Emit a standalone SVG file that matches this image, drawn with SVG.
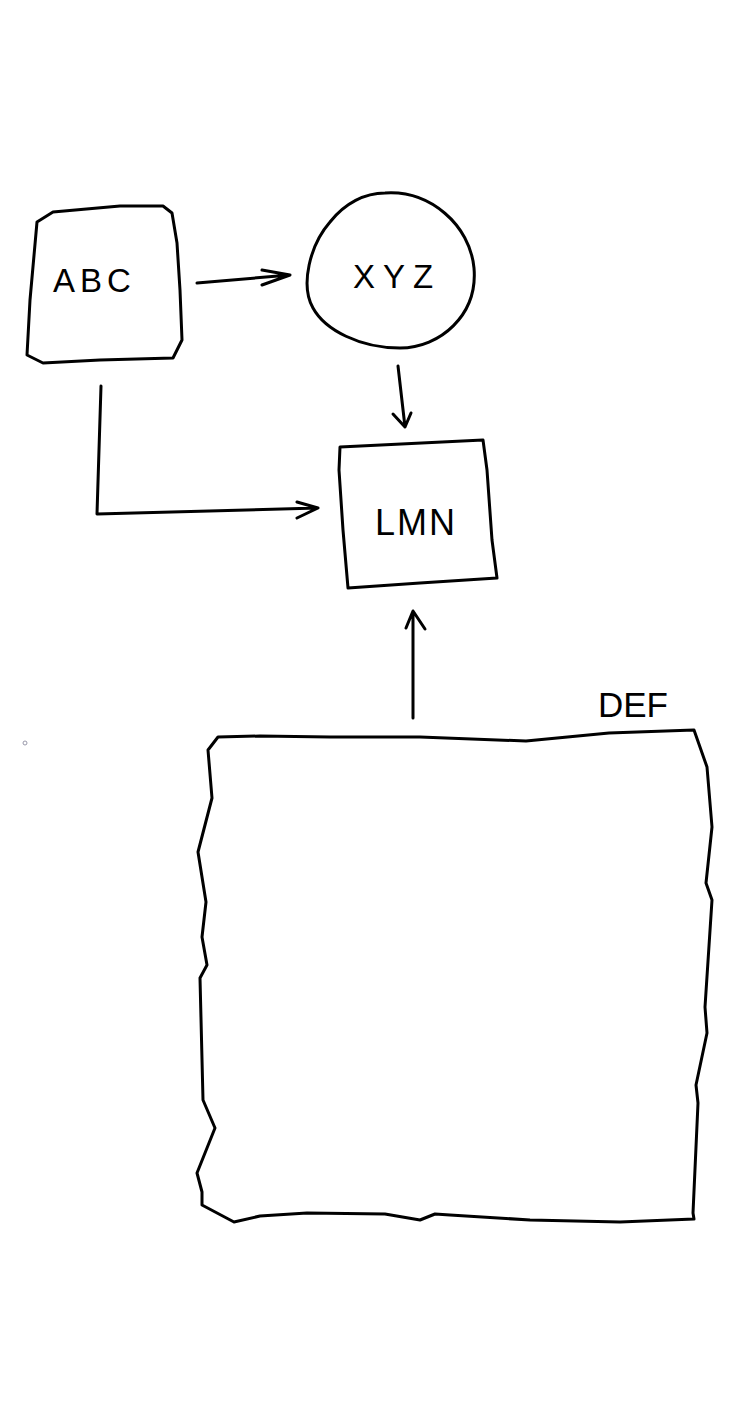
<svg xmlns="http://www.w3.org/2000/svg" width="733" height="1428" viewBox="0 0 733 1428">
<style>
.s{fill:none;stroke:#000;stroke-width:3;stroke-linejoin:round;stroke-linecap:round}
.t{font-family:"Liberation Sans",Arial,sans-serif;fill:#000}
</style>
<rect width="733" height="1428" fill="#fff"/>
<g id="abc">
<path class="s" d="M37,222 L53,212 L120,206 L163,206 L172,213 L177,243 L180,290 L182,340 L173,358 L100,360 L43,363 L27,355 L30,300 L37,222 Z"/>
<text class="t" x="53" y="292" font-size="33" letter-spacing="5">ABC</text>
</g>
<g id="xyz">
<path class="s" d="M385,193 C430,190 470,225 474,268 C478,315 440,348 400,348 C360,348 325,330 313,308 C300,285 310,245 330,222 C345,203 365,193 385,193 Z"/>
<text class="t" x="353" y="288" font-size="33" letter-spacing="8">XYZ</text>
</g>
<g id="lmn">
<path class="s" d="M340,447 L483,440 L487,470 L492,540 L497,578 L420,583 L348,588 L343,530 L339,470 Z"/>
<text class="t" x="375" y="535" font-size="36" letter-spacing="2">LMN</text>
</g>
<g id="def">
<path class="s" d="M218,737 L260,736 L330,737 L420,737 L526,741 L609,733 L694,730 L707,767 L712,827 L706,883 L712,900 L705,1007 L707,1033 L696,1085 L698,1103 L693,1213 L694,1219 L620,1222 L530,1220 L450,1215 L435,1214 L420,1220 L385,1214 L307,1213 L260,1216 L234,1222 L202,1205 L202,1192 L197,1173 L215,1128 L203,1100 L200,978 L207,965 L202,937 L206,902 L198,852 L212,798 L208,750 Z"/>
<text class="t" x="598" y="717" font-size="35">DEF</text>
</g>
<g id="connectors">
<path class="s" d="M197,283 L290,275 M262,270 L290,275 L262,285"/>
<path class="s" d="M398,366 L405,427 M393,414 L405,427 L411,413"/>
<path class="s" d="M101,386 L97,514 L318,508 M297,502 L318,508 L297,518"/>
<path class="s" stroke-width="4" d="M413,718 L413,612 M406,628 L413,611 L425,629"/>
</g>
<circle cx="25" cy="743" r="2" fill="none" stroke="#99a" stroke-width="1"/>
</svg>
